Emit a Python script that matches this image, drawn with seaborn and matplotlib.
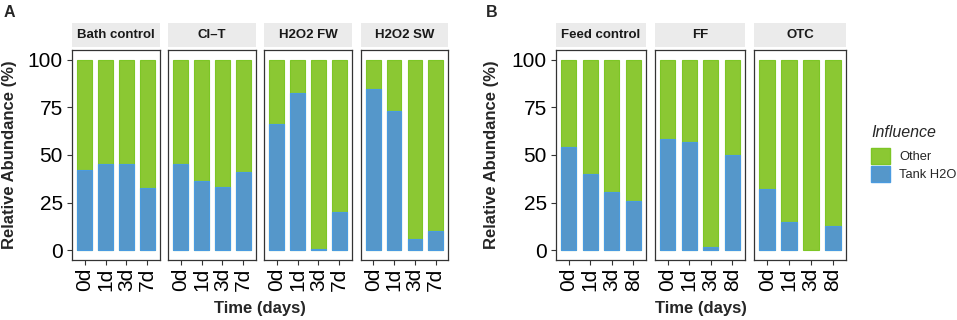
#! /usr/bin/python3
# -*- coding:utf-8 -*-
"""
sns - stacked relative abundance bars, faceted by treatment (panels A and B).
"""
import pandas as pd
import seaborn as sns
import matplotlib.pyplot as plt
from matplotlib.patches import Patch

sns.set_style('ticks')
plt.rcParams['font.family'] = ['Liberation Sans', 'DejaVu Sans']

# ---- data (Tank H2O share in %, rest is "Other") ----
times_a = ['0d', '1d', '3d', '7d']
times_b = ['0d', '1d', '3d', '8d']
groups_a = ['Bath control', 'Cl–T', 'H2O2 FW', 'H2O2 SW']
groups_b = ['Feed control', 'FF', 'OTC']

tank_bath = [42.2, 45.1, 45.1, 32.6]
tank_clt = [45.1, 36.3, 33.0, 41.0]
tank_fw = [66.5, 82.3, 0.7, 20.0]
tank_sw = [84.4, 73.0, 5.9, 10.0]
tank_feed = [54.3, 39.8, 30.4, 25.7]
tank_ff = [58.3, 56.9, 1.7, 50.0]
tank_otc = [32.0, 14.7, 0.0, 13.0]

legend_labels = ['Other', 'Tank H2O']


def to_long(groups, times, tanks):
    rows = []
    for g, vals in zip(groups, tanks):
        for t, v in zip(times, vals):
            rows.append({'group': g, 'time': t, 'tank': v, 'other': 100 - v})
    df = pd.DataFrame(rows)
    df['total'] = df['tank'] + df['other']
    return df


df_a = to_long(groups_a, times_a, [tank_bath, tank_clt, tank_fw, tank_sw])
df_b = to_long(groups_b, times_b, [tank_feed, tank_ff, tank_otc])

green, green_edge = '#8BC833', '#7DC625'
blue, blue_edge = '#5597CA', '#4A9BE0'

W, H = 957, 320
fig = plt.figure(figsize=(W / 100, H / 100), dpi=100)


def box(x0, x1, y0, y1):
    return [x0 / W, 1 - y1 / H, (x1 - x0) / W, (y1 - y0) / H]


def facet(df, group, times, x0, x1, first):
    ax = fig.add_axes(box(x0, x1, 50, 260))
    sub = df[df['group'] == group]
    sns.barplot(data=sub, x='time', y='total', order=times, color=green,
                edgecolor=green_edge, linewidth=0.8, width=0.7,
                saturation=1, errorbar=None, ax=ax)
    # stacked part: Tank H2O at the bottom (skip empty bars)
    sns.barplot(data=sub[sub['tank'] > 0], x='time', y='tank', order=times,
                color=blue, edgecolor=blue_edge, linewidth=0.8, width=0.7,
                saturation=1, errorbar=None, ax=ax)
    ax.set_xlim(-0.6, 3.6)
    ax.set_ylim(-5, 105)
    ax.set_yticks([0, 25, 50, 75, 100])
    ax.set_xlabel('')
    ax.set_ylabel('')
    for s in ax.spines.values():
        s.set_visible(True)
        s.set_color('#333333')
        s.set_linewidth(0.9)
    ax.tick_params(direction='out', length=3.5, width=0.8, color='#333333',
                   labelsize=15, labelcolor='black',
                   bottom=True, left=True)
    ax.tick_params(axis='y', pad=3)
    ax.tick_params(axis='x', labelrotation=90, pad=2)
    if not first:
        ax.tick_params(axis='y', left=False, labelleft=False)

    strip = fig.add_axes(box(x0, x1, 23, 47))
    strip.set_facecolor('#EBEBEB')
    strip.set_xticks([])
    strip.set_yticks([])
    for s in strip.spines.values():
        s.set_visible(False)
    strip.text(0.5, 0.5, group, ha='center', va='center',
               fontsize=9.5, fontweight='bold', color='#1A1A1A')


panels_a = [(72, 160), (168, 256), (264, 352), (361, 448)]
panels_b = [(556, 646), (655, 745), (754, 846)]

for i, (g, (x0, x1)) in enumerate(zip(groups_a, panels_a)):
    facet(df_a, g, times_a, x0, x1, i == 0)
for i, (g, (x0, x1)) in enumerate(zip(groups_b, panels_b)):
    facet(df_b, g, times_b, x0, x1, i == 0)

# axis titles and panel tags
fig.text(10 / W, 1 - 155 / H, 'Relative Abundance (%)', rotation=90,
         ha='center', va='center', fontsize=12, fontweight='bold')
fig.text(491 / W, 1 - 155 / H, 'Relative Abundance (%)', rotation=90,
         ha='center', va='center', fontsize=12, fontweight='bold')
fig.text(260 / W, 1 - 309 / H, 'Time (days)', ha='center', va='center',
         fontsize=12, fontweight='bold')
fig.text(701 / W, 1 - 309 / H, 'Time (days)', ha='center', va='center',
         fontsize=12, fontweight='bold')
fig.text(4 / W, 1 - 5 / H, 'A', ha='left', va='top', fontsize=11.5,
         fontweight='bold')
fig.text(486 / W, 1 - 5 / H, 'B', ha='left', va='top', fontsize=11.5,
         fontweight='bold')

handles = [Patch(facecolor=green, edgecolor=green_edge),
           Patch(facecolor=blue, edgecolor=blue_edge)]
leg = fig.legend(handles, legend_labels, title='Influence', loc='upper left',
                 bbox_to_anchor=(871 / W, 1 - 125 / H), frameon=False,
                 borderpad=0, borderaxespad=0,
                 fontsize=9.3, title_fontsize=11.5, handlelength=1.45,
                 handleheight=1.45, labelspacing=0.2, handletextpad=0.75)
leg.get_title().set_fontstyle('italic')
leg._legend_box.align = 'left'
leg._legend_box.sep = 6

fig.savefig('out.png', dpi=100)
